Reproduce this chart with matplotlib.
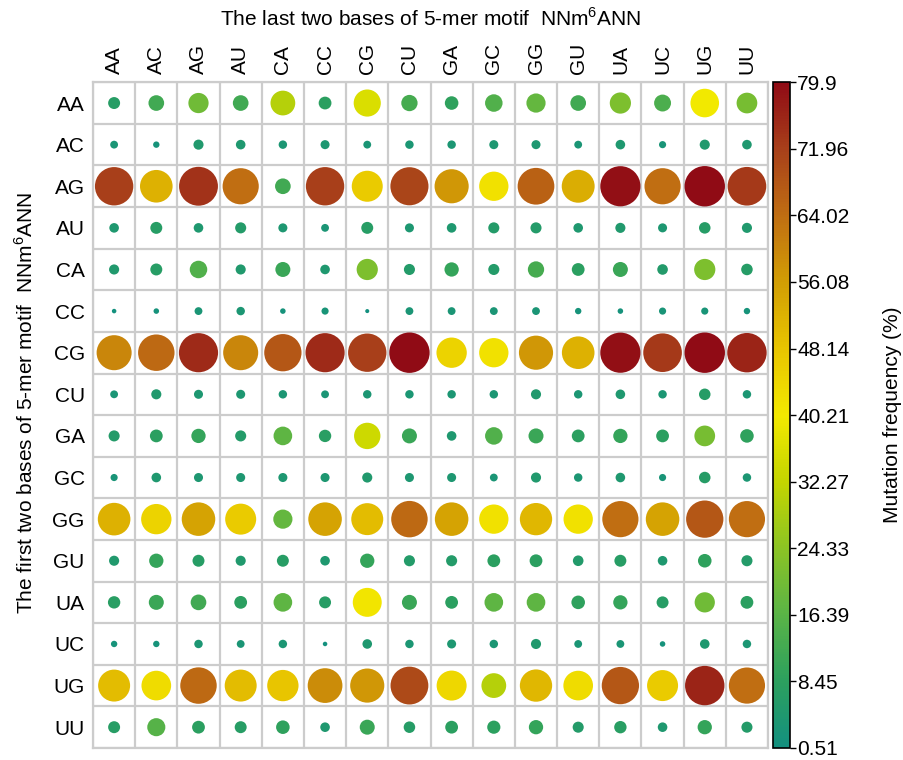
import numpy as np
import matplotlib
matplotlib.use("Agg")
import matplotlib.pyplot as plt
from matplotlib.colors import LinearSegmentedColormap, Normalize

plt.rcParams['font.family'] = ['Liberation Sans', 'DejaVu Sans']
plt.rcParams['mathtext.fontset'] = 'custom'
plt.rcParams['mathtext.rm'] = 'Liberation Sans'

bases = ['AA', 'AC', 'AG', 'AU', 'CA', 'CC', 'CG', 'CU',
         'GA', 'GC', 'GG', 'GU', 'UA', 'UC', 'UG', 'UU']

# mutation frequency (%), rows = first two bases, cols = last two bases
row_AA = [7, 12, 20, 12, 30, 8, 36, 13, 9, 15, 18, 12, 22, 14, 40, 21]
row_AC = [3, 2, 5, 4.5, 3.5, 4, 3, 3.5, 3.5, 4, 4, 3, 4.5, 2.5, 5, 4.5]
row_AG = [72, 52, 74, 64, 12, 72, 47, 71, 57, 42, 66, 53, 79, 64, 79.9, 73]
row_AU = [4.5, 7, 4.5, 6, 4, 3, 7, 4, 4.5, 6, 6, 4.5, 5, 4, 6.5, 5]
row_CA = [5, 7, 15, 5, 11, 4.5, 22, 6, 10, 6, 13, 8, 11, 5.5, 22, 6.5]
row_CC = [1, 1.5, 3, 3.5, 1.5, 2.5, 0.8, 3, 3, 3, 3, 2, 1.5, 2.5, 2.5, 2]
row_CG = [60, 65, 75, 60, 68, 75, 72, 79.9, 45, 42, 57, 52, 79, 73, 79.9, 76]
row_CU = [3, 5, 4, 4, 3.5, 3, 3.5, 3.5, 3.5, 3.5, 5, 3.5, 4.5, 3.5, 6.5, 3.5]
row_GA = [6, 8, 10, 6, 17, 7.5, 34, 11, 4.5, 15, 11, 8, 10, 8, 21, 9]
row_GC = [2.5, 4.5, 4, 4, 4, 4, 5, 4, 4, 3, 5, 3.5, 4.5, 2.5, 6.5, 3.5]
row_GG = [52, 45, 55, 47, 18, 55, 50, 65, 55, 42, 51, 42, 64, 55, 68, 64]
row_GU = [5, 10, 7, 5, 7, 4.5, 10, 6, 6, 8, 8, 5.5, 7, 4.5, 9, 6]
row_UA = [7.5, 11, 12, 8, 17, 7, 41, 11, 8, 17, 17, 9, 10, 7, 20, 8]
row_UC = [2, 2, 3.5, 3, 3.5, 1, 4.5, 3.5, 4, 3.5, 5, 3, 3, 1.5, 4.5, 3.5]
row_UG = [50, 43, 65, 50, 48, 59, 57, 70, 44, 30, 51, 43, 68, 47, 76, 64]
row_UU = [7, 16, 8, 7, 9, 4.5, 11, 6.5, 8, 8.5, 10, 6, 7.5, 4.5, 10, 6]

values = np.array([row_AA, row_AC, row_AG, row_AU, row_CA, row_CC, row_CG, row_CU,
                   row_GA, row_GC, row_GG, row_GU, row_UA, row_UC, row_UG, row_UU])

vmin, vmax = 0.51, 79.9
cbar_ticks = [0.51, 8.45, 16.39, 24.33, 32.27, 40.21, 48.14, 56.08, 64.02, 71.96, 79.9]

cmap = LinearSegmentedColormap.from_list('mut', [
    (0.0, '#13907f'), (0.1, '#2ca05e'), (0.2, '#5ab446'), (0.3, '#8cc424'),
    (0.4, '#c4d500'), (0.5, '#f3e900'), (0.6, '#e8c500'), (0.7, '#d29e04'),
    (0.8, '#c06e12'), (0.9, '#a8401a'), (1.0, '#900b15')])
norm = Normalize(vmin, vmax)

fig = plt.figure(figsize=(9.04, 7.6), dpi=100)
ax = fig.add_axes([0.1029, 0.0158, 0.7467, 0.876])

n = len(bases)
xx, yy = np.meshgrid(np.arange(n), np.arange(n))
ax.scatter(xx.ravel(), yy.ravel(), s=values.ravel() * 10.6, c=values.ravel(),
           cmap=cmap, norm=norm, linewidths=0, zorder=3)

ax.set_xlim(-0.5, n - 0.5)
ax.set_ylim(n - 0.5, -0.5)
ax.set_xticks(np.arange(n))
ax.set_yticks(np.arange(n))
ax.set_xticklabels(bases, rotation=90, fontsize=15)
ax.set_yticklabels(bases, fontsize=15)
ax.xaxis.tick_top()
ax.tick_params(length=0, pad=6)
ax.set_xticks(np.arange(-0.5, n, 1), minor=True)
ax.set_yticks(np.arange(-0.5, n, 1), minor=True)
ax.grid(which='minor', color='#cccccc', linewidth=1.6)
ax.tick_params(which='minor', length=0)
for sp in ax.spines.values():
    sp.set_color('#cccccc')
    sp.set_linewidth(1.6)

fig.text(0.476, 0.975, r'The last two bases of 5-mer motif  NNm$^{\mathrm{6}}$ANN',
         ha='center', va='center', fontsize=15)
fig.text(0.028, 0.47, r'The first two bases of 5-mer motif  NNm$^{\mathrm{6}}$ANN',
         ha='center', va='center', rotation=90, fontsize=15)

cax = fig.add_axes([0.855, 0.0158, 0.019, 0.876])
sm = plt.cm.ScalarMappable(norm=norm, cmap=cmap)
cb = fig.colorbar(sm, cax=cax, ticks=cbar_ticks)
cb.ax.set_yticklabels(['0.51', '8.45', '16.39', '24.33', '32.27', '40.21',
                       '48.14', '56.08', '64.02', '71.96', '79.9'], fontsize=15)
cb.ax.tick_params(length=4, width=1, pad=1)
cb.outline.set_linewidth(1.2)
cb.set_label('Mutation frequency (%)', fontsize=15, labelpad=24)

fig.savefig('out.png', dpi=100)
